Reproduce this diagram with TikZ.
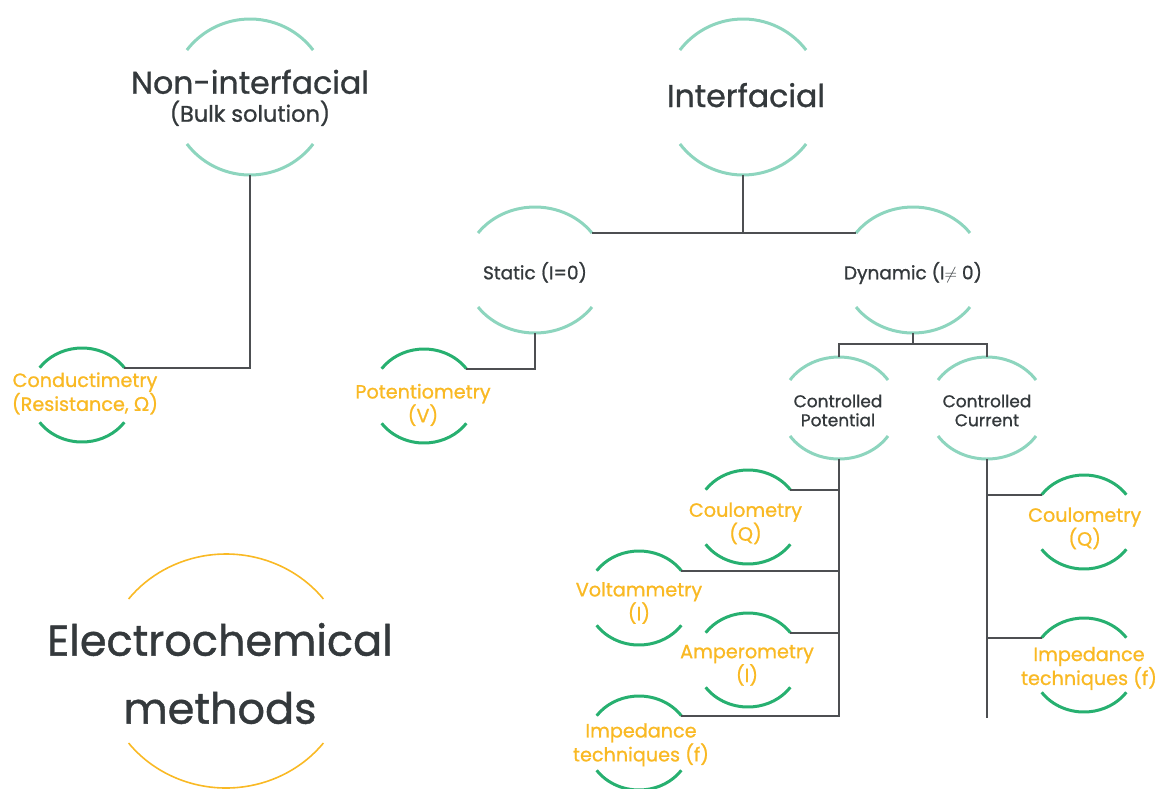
\documentclass[tikz,border=0pt]{standalone}
\usepackage{fontspec}
\setmainfont{Poppins}[FakeBold=1.0]
\newfontfamily\greekfont{Lato}[FakeBold=1.0]
\definecolor{teal}{HTML}{8DD5BE}
\definecolor{leafgreen}{HTML}{27B070}
\definecolor{wire}{HTML}{4D4F52}
\definecolor{gold}{HTML}{F9B924}
\definecolor{ink}{HTML}{34393C}

% two facing arcs around a centre: name, x, y (downwards), x radius, y radius, end angle, style
\newcommand\arcring[7]{%
  \coordinate (#1) at (#2,-#3);
  \path (#1) ++({#4*cos(#6)},{#5*sin(#6)}) coordinate (#1-ne)
        (#1) ++({-#4*cos(#6)},{#5*sin(#6)}) coordinate (#1-nw)
        (#1) ++({#4*cos(#6)},{-#5*sin(#6)}) coordinate (#1-se)
        (#1) ++({-#4*cos(#6)},{-#5*sin(#6)}) coordinate (#1-sw)
        (#1) ++(0,#5) coordinate (#1-n)
        (#1) ++(0,-#5) coordinate (#1-s);
  \draw[#7] (#1-ne) arc[start angle=#6, end angle={180-#6}, x radius=#4pt, y radius=#5pt];
  \draw[#7] (#1-sw) arc[start angle={180+#6}, end angle={360-#6}, x radius=#4pt, y radius=#5pt];
}
\newcommand\leafring[3]{\arcring{#1}{#2}{#3}{52}{47}{35.5}{leafarc}}

\tikzset{
  toparc/.style={draw=teal, line width=3pt},
  leafarc/.style={draw=leafgreen, line width=3pt},
  rootarc/.style={draw=gold, line width=1.6pt},
  link/.style={draw=wire, line width=2pt},
  lbl/.style={inner sep=0pt, align=center},
  bigtitle/.style={lbl, text=ink, font=\fontsize{31.5}{28}\selectfont},
  midtitle/.style={lbl, text=ink, font=\fontsize{18.5}{22}\selectfont},
  smalltitle/.style={lbl, text=ink, font=\fontsize{17}{19}\selectfont},
  leaftext/.style={lbl, text=gold, font=\fontsize{19.2}{22}\selectfont},
  roottext/.style={lbl, text=ink, font=\fontsize{43}{68}\selectfont},
}

\begin{document}
\begin{tikzpicture}[x=1pt, y=1pt]
\useasboundingbox (0,0) rectangle (1158,-788);

% category rings
\arcring{noni}{250}{97}{79}{78}{37}{toparc}
\arcring{inter}{743}{97}{79}{78}{37}{toparc}
\arcring{static}{535}{270}{70.4}{63}{36}{toparc}
\arcring{dyn}{913}{270}{70.4}{63}{36}{toparc}
\arcring{cpot}{839}{408}{58.6}{51}{33.3}{toparc}
\arcring{ccur}{987}{408}{58.6}{51}{33.3}{toparc}
\arcring{root}{226}{671}{123.6}{117}{38}{rootarc}

% method rings
\leafring{cond}{82}{395}
\leafring{pot}{424}{396}
\leafring{coulL}{748}{517}
\leafring{volt}{639}{598}
\leafring{amp}{748}{660}
\leafring{impL}{639}{743}
\leafring{coulR}{1084}{522}
\leafring{impR}{1084}{665}

% labels
\node[bigtitle] (noni-t) at (250,-97.8) {Non-interfacial\\\fontsize{22.5}{28.5}\selectfont(Bulk solution)};
\node[bigtitle, anchor=base] (inter-t) at (746,-107) {Interfacial};
\node[midtitle, anchor=base] (static-t) at (535,-279.3) {Static (I=0)};
\node[midtitle, anchor=base] (dyn-t) at (913,-279.3) {Dynamic (I\(\neq\) 0)};
\node[smalltitle] (cpot-t) at (838,-410.5) {Controlled\\Potential};
\node[smalltitle] (ccur-t) at (987,-410.5) {Controlled\\Current};
\node[roottext] (root-t) at (220,-673.5) {Electrochemical\\methods};

\node[leaftext] (cond-t) at (85,-393.4) {Conductimetry\\(Resistance, {\greekfont Ω})};
\node[leaftext] (pot-t) at (423,-404.9) {Potentiometry\\(V)};
\node[leaftext] (coulL-t) at (745.5,-523.4) {Coulometry\\(Q)};
\node[leaftext] (volt-t) at (639,-603) {Voltammetry\\(I)};
\node[leaftext] (amp-t) at (747,-665.3) {Amperometry\\(I)};
\node[leaftext] (impL-t) at (641,-744.8) {Impedance\\techniques (f)};
\node[leaftext] (coulR-t) at (1084.7,-528.4) {Coulometry\\(Q)};
\node[leaftext] (impR-t) at (1089,-668.4) {Impedance\\techniques (f)};

% connectors
\draw[link] (noni-s) |- (cond-ne);
\draw[link] (static-ne) -- (dyn-nw);
\draw[link] (inter-s) -- (inter-s |- static-ne);
\draw[link] (static-s) |- (pot-ne);
\draw[link] (dyn-s) -- ++(0,-11) coordinate (dynjoin);
\draw[link] (cpot-n) |- (dynjoin) -| (ccur-n);

\draw[link] (cpot-s) -- (cpot-s |- impL-ne) -- (impL-ne);
\draw[link] (coulL-ne) -- (coulL-ne -| cpot-s);
\draw[link] (volt-ne) -- (volt-ne -| cpot-s);
\draw[link] (amp-ne) -- (amp-ne -| cpot-s);

\coordinate (ccur-end) at (987,-718);
\draw[link] (ccur-s) -- (ccur-end);
\draw[link] (coulR-nw) -- (coulR-nw -| ccur-s);
\draw[link] (impR-nw) -- (impR-nw -| ccur-s);
\end{tikzpicture}
\end{document}
